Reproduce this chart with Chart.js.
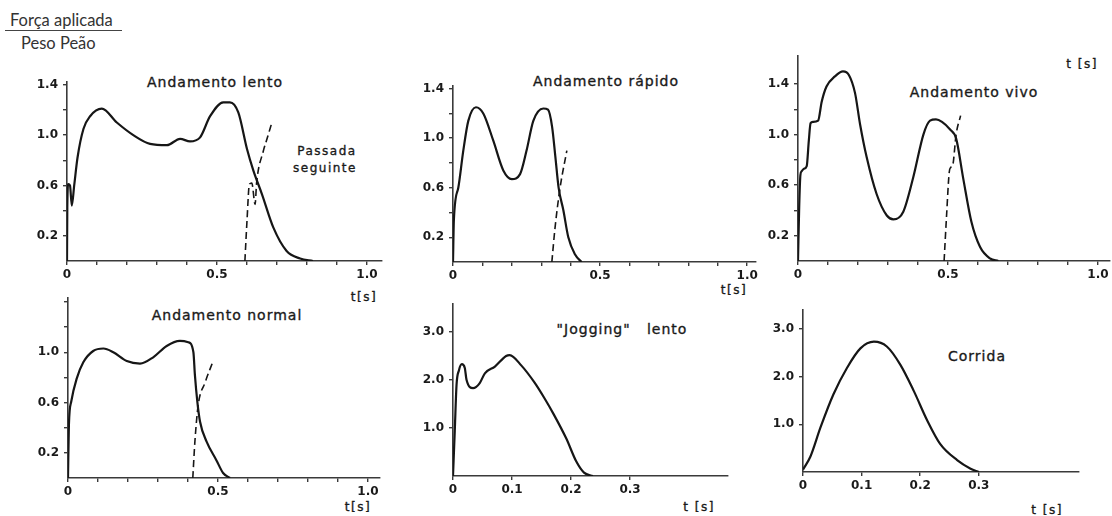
<!DOCTYPE html>
<html>
<head>
<meta charset="utf-8">
<script src="https://cdn.jsdelivr.net/npm/chart.js@4.4.1/dist/chart.umd.min.js"></script>
<style>
  html, body { margin: 0; padding: 0; background: #fff; overflow: hidden; }
  #page { position: relative; width: 1112px; height: 516px; background: #fff; }
  canvas.panel { position: absolute; }
  .lbl {
    position: absolute;
    font-family: "DejaVu Sans", sans-serif;
    font-size: 14px;
    color: #1a1a1a;
    letter-spacing: 1px;
    white-space: pre;
    -webkit-text-stroke: 0.35px #1a1a1a;
    transform: translate(-50%, -50%);
  }
  .small { font-size: 12px; letter-spacing: 1.5px; }
  .head { position: absolute; font-family: Lato, "Open Sans", sans-serif; font-size: 16.5px; color: #333; white-space: nowrap; }
</style>
</head>
<body>
<div id="page">
  <div class="head" style="left:5px; top:10px; width:112px; padding-left:5px; line-height:20px; border-bottom:1.3px solid #444;">Força aplicada</div>
  <div class="head" style="left:21px; top:35px; line-height:17px;">Peso Peão</div>

  <div class="lbl" style="left:215px; top:82px;">Andamento lento</div>
  <div class="lbl small" style="left:327px; top:151px;">Passada</div>
  <div class="lbl small" style="left:325px; top:168px;">seguinte</div>
  <div class="lbl small" style="left:364px; top:297px;">t[s]</div>

  <div class="lbl" style="left:606px; top:81px;">Andamento rápido</div>
  <div class="lbl small" style="left:734px; top:290px;">t[s]</div>

  <div class="lbl" style="left:974px; top:92px;">Andamento vivo</div>
  <div class="lbl small" style="left:1082px; top:64px;">t [s]</div>

  <div class="lbl" style="left:227px; top:315px;">Andamento normal</div>
  <div class="lbl small" style="left:358px; top:507px;">t[s]</div>

  <div class="lbl" style="left:622px; top:329px;">"Jogging"   lento</div>
  <div class="lbl small" style="left:699px; top:507px;">t [s]</div>

  <div class="lbl" style="left:977px; top:356px;">Corrida</div>
  <div class="lbl small" style="left:1047px; top:510px;">t [s]</div>
</div>
<script>
(function () {
  // force / body weight against time [s]
  const lentoT = [0, 0.001, 0.004, 0.010, 0.016, 0.024, 0.035, 0.055, 0.077, 0.116, 0.166, 0.221, 0.277, 0.333, 0.377, 0.41, 0.443, 0.477, 0.521, 0.543, 0.571, 0.6, 0.621, 0.65, 0.688, 0.732, 0.777, 0.82];
  const lentoF = [0, 0.42, 0.61, 0.6, 0.44, 0.6, 0.82, 1.05, 1.15, 1.21, 1.10, 1.0, 0.93, 0.92, 0.97, 0.95, 0.98, 1.15, 1.26, 1.26, 1.18, 0.89, 0.72, 0.53, 0.265, 0.08, 0.02, 0];
  const lentoNextT = [0.593, 0.600, 0.608, 0.616, 0.627, 0.632, 0.654, 0.668, 0.683];
  const lentoNextF = [0, 0.32, 0.61, 0.62, 0.45, 0.62, 0.87, 0.98, 1.10];

  const rapidoT = [0, 0.003, 0.018, 0.035, 0.052, 0.078, 0.103, 0.137, 0.171, 0.2, 0.228, 0.25, 0.273, 0.307, 0.323, 0.337, 0.348, 0.359, 0.375, 0.392, 0.415, 0.437];
  const rapidoF = [0, 0.34, 0.60, 0.90, 1.14, 1.25, 1.20, 0.98, 0.74, 0.67, 0.71, 0.90, 1.14, 1.24, 1.23, 1.09, 0.85, 0.60, 0.42, 0.20, 0.06, 0];
  const rapidoNextT = [0.336, 0.347, 0.364, 0.387];
  const rapidoNextF = [0, 0.28, 0.60, 0.90];

  const vivoT = [0, 0.004, 0.008, 0.012, 0.02, 0.029, 0.036, 0.042, 0.05, 0.067, 0.079, 0.095, 0.123, 0.15, 0.17, 0.19, 0.207, 0.229, 0.262, 0.296, 0.318, 0.351, 0.384, 0.418, 0.44, 0.46, 0.48, 0.507, 0.527, 0.551, 0.578, 0.607, 0.64, 0.668];
  const vivoF = [0, 0.43, 0.68, 0.71, 0.73, 0.75, 0.95, 1.09, 1.10, 1.11, 1.26, 1.38, 1.46, 1.50, 1.47, 1.33, 1.08, 0.82, 0.53, 0.36, 0.33, 0.39, 0.66, 1.0, 1.11, 1.12, 1.10, 1.04, 0.97, 0.65, 0.31, 0.11, 0.02, 0];
  const vivoNextT = [0.487, 0.495, 0.504, 0.509, 0.516, 0.527, 0.542];
  const vivoNextF = [0, 0.35, 0.70, 0.74, 0.76, 1.0, 1.15];

  const normalT = [0, 0.003, 0.011, 0.029, 0.051, 0.084, 0.118, 0.151, 0.196, 0.24, 0.284, 0.329, 0.373, 0.401, 0.418, 0.423, 0.431, 0.44, 0.462, 0.495, 0.517, 0.54];
  const normalF = [0, 0.42, 0.61, 0.79, 0.92, 1.01, 1.03, 1.0, 0.93, 0.91, 0.96, 1.05, 1.09, 1.08, 1.0, 0.82, 0.61, 0.45, 0.29, 0.14, 0.04, 0];
  const normalNextT = [0.416, 0.423, 0.434, 0.457, 0.482];
  const normalNextF = [0, 0.29, 0.58, 0.76, 0.92];

  const joggingT = [0, 0.003, 0.006, 0.01, 0.015, 0.02, 0.023, 0.034, 0.045, 0.054, 0.071, 0.09, 0.096, 0.116, 0.138, 0.155, 0.17, 0.192, 0.209, 0.222, 0.237];
  const joggingF = [0, 0.94, 1.90, 2.20, 2.33, 2.25, 2.0, 1.83, 1.93, 2.14, 2.28, 2.50, 2.52, 2.30, 1.95, 1.62, 1.30, 0.78, 0.30, 0.07, 0];

  const corridaT = [0, 0.0125, 0.03, 0.052, 0.075, 0.098, 0.121, 0.143, 0.166, 0.189, 0.212, 0.234, 0.263, 0.286, 0.3];
  const corridaF = [0.05, 0.32, 0.94, 1.63, 2.18, 2.59, 2.73, 2.63, 2.25, 1.70, 1.08, 0.59, 0.25, 0.07, 0];

  // axis ticks and their labels
  const walkTicksT = [0, 0.1, 0.2, 0.3, 0.4, 0.5, 0.6, 0.7, 0.8, 0.9, 1.0];
  const walkLabelsT = ["0", "", "", "", "", "0.5", "", "", "", "", "1.0"];
  const walkTicksF = [0.2, 0.4, 0.6, 0.8, 1.0, 1.2, 1.4];
  const walkLabelsF = ["0.2", "", "0.6", "", "1.0", "", "1.4"];
  const normalLabelsF = ["0.2", "", "0.6", "", "1.0", "", ""];
  const runTicksT = [0, 0.1, 0.2, 0.3];
  const runLabelsT = ["0", "0.1", "0.2", "0.3"];
  const runTicksF = [1, 2, 3];
  const runLabelsF = ["1.0", "2.0", "3.0"];

  const ink = "#161616";
  const axisInk = "#3a3a3a";
  const yW = 46, xH = 26, padT = 10, padR = 16;

  function pts(ts, fs) {
    return ts.map((t, i) => ({ x: t, y: fs[i] }));
  }

  function solid(ts, fs) {
    return { data: pts(ts, fs), borderColor: ink, borderWidth: 2.2, pointRadius: 0, cubicInterpolationMode: "monotone", fill: false };
  }

  function dashed(ts, fs) {
    return { data: pts(ts, fs), borderColor: ink, borderWidth: 1.6, borderDash: [7, 4], pointRadius: 0, cubicInterpolationMode: "monotone", fill: false };
  }

  function axis(ticks, labels, min, max, isX) {
    return {
      type: "linear",
      bounds: "data",
      min: min,
      max: max,
      afterBuildTicks: s => { s.ticks = ticks.map(v => ({ value: v })); },
      afterFit: s => { if (isX) { s.height = xH; } else { s.width = yW; } },
      grid: { drawOnChartArea: false, drawTicks: true, tickLength: 4, color: axisInk, lineWidth: 1.4 },
      border: { display: true, color: axisInk, width: 1.6 },
      ticks: {
        autoSkip: false,
        maxRotation: 0,
        padding: isX ? 3 : 5,
        color: "#1a1a1a",
        font: { family: "DejaVu Sans", size: 12, weight: "bold" },
        callback: (v, i) => labels[i]
      }
    };
  }

  function buildPanel(p) {
    const ox = Math.round(p.ox), oy = Math.round(p.oy);
    const w = Math.round(yW + p.xMax * p.px + padR);
    const h = Math.round(padT + p.yMax * p.py + xH);
    const canvas = document.createElement("canvas");
    canvas.className = "panel";
    canvas.width = w;
    canvas.height = h;
    canvas.style.width = w + "px";
    canvas.style.height = h + "px";
    canvas.style.left = (ox - yW) + "px";
    canvas.style.top = (oy - h + xH) + "px";
    document.getElementById("page").appendChild(canvas);

    new Chart(canvas.getContext("2d"), {
      type: "line",
      data: { datasets: p.datasets },
      options: {
        responsive: false,
        animation: false,
        events: [],
        layout: { padding: { top: padT, right: padR, left: 0, bottom: 0 } },
        plugins: { legend: { display: false }, tooltip: { enabled: false } },
        scales: {
          x: axis(p.xTicks, p.xLabels, 0, p.xMax, true),
          y: axis(p.yTicks, p.yLabels, 0, p.yMax, false)
        }
      }
    });
  }

  const panels = [
    { ox: 67, oy: 260.5, px: 300, py: 127.5, xMax: 1.05, yMax: 1.42, xTicks: walkTicksT, xLabels: walkLabelsT, yTicks: walkTicksF, yLabels: walkLabelsF,
      datasets: [solid(lentoT, lentoF), dashed(lentoNextT, lentoNextF)] },
    { ox: 453, oy: 262, px: 294, py: 125, xMax: 1.03, yMax: 1.42, xTicks: walkTicksT, xLabels: walkLabelsT, yTicks: walkTicksF, yLabels: walkLabelsF,
      datasets: [solid(rapidoT, rapidoF), dashed(rapidoNextT, rapidoNextF)] },
    { ox: 798, oy: 261, px: 300, py: 127.5, xMax: 1.04, yMax: 1.62, xTicks: walkTicksT, xLabels: walkLabelsT, yTicks: walkTicksF, yLabels: walkLabelsF,
      datasets: [solid(vivoT, vivoF), dashed(vivoNextT, vivoNextF)] },
    { ox: 68, oy: 477.5, px: 300, py: 127.5, xMax: 1.04, yMax: 1.43, xTicks: walkTicksT, xLabels: walkLabelsT, yTicks: walkTicksF, yLabels: normalLabelsF,
      datasets: [solid(normalT, normalF), dashed(normalNextT, normalNextF)] },
    { ox: 453, oy: 475.5, px: 590, py: 48.5, xMax: 0.466, yMax: 3.58, xTicks: runTicksT, xLabels: runLabelsT, yTicks: runTicksF, yLabels: runLabelsF,
      datasets: [solid(joggingT, joggingF)] },
    { ox: 803, oy: 472, px: 585, py: 48.3, xMax: 0.471, yMax: 3.39, xTicks: runTicksT, xLabels: runLabelsT, yTicks: runTicksF, yLabels: runLabelsF,
      datasets: [solid(corridaT, corridaF)] }
  ];

  panels.forEach(buildPanel);
})();
</script>
</body>
</html>
